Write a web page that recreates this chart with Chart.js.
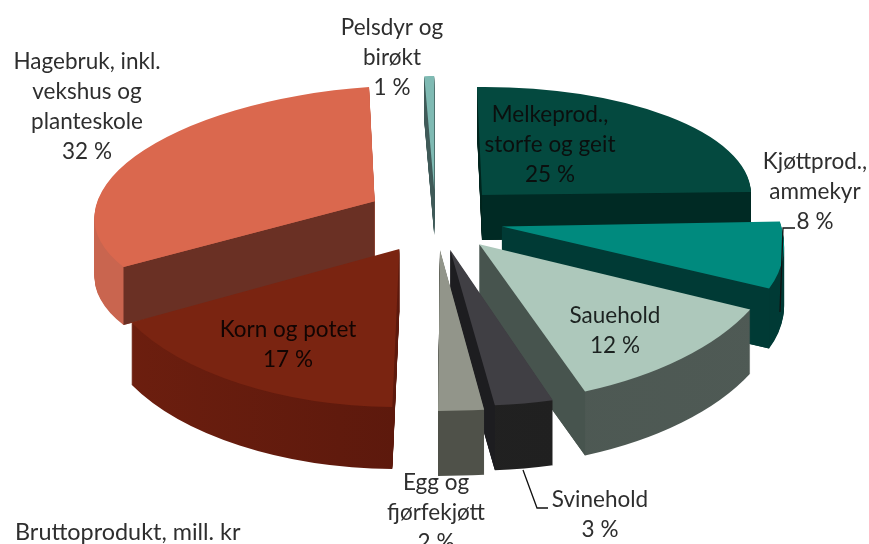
<!DOCTYPE html>
<html lang="no">
<head>
<meta charset="utf-8">
<title>Bruttoprodukt</title>
<script src="https://cdn.jsdelivr.net/npm/chart.js@4"></script>
<style>
    html, body { margin: 0; background: #fff; }
    canvas { display: block; filter: blur(0.5px); }
</style>
</head>
<body>
<canvas id="pie" width="869" height="544"></canvas>
<script>
(function () {
    'use strict';

    const categories = ['Melkeprod., storfe og geit', 'Kjøttprod., ammekyr', 'Sauehold', 'Svinehold', 'Egg og fjørfekjøtt', 'Korn og potet', 'Hagebruk, inkl. vekshus og planteskole', 'Pelsdyr og birøkt'];
    const shares = [25, 8, 12, 3, 2, 17, 32, 1];
    const chartNote = 'Bruttoprodukt, mill. kr';

    const topColors = ['#04493f', '#008a7e', '#adc8bb', '#403f44', '#92958a', '#7a2411', '#da684e', '#7fbab3'];
    const wallLeft = ['#00241d', '#003a35', '#4a5650', '#242424', '#4f5149', '#6e1f0f', '#c9654f', '#3f5a58'];
    const wallRight = ['#00241d', '#003a35', '#4f5a55', '#1e1e1e', '#4f5149', '#4c130a', '#c9654f', '#3f5a58'];
    const cutColors = ['#002a24', '#003a35', '#47544e', '#1d1d20', '#4f5149', '#5e1a0c', '#6a3024', '#3f5a58'];

    // view of the tilted pie: explode distance, where each slice's unit axes land, wall height
    const explode = [65, 68, 68, 65, 64, 72, 70, 56];
    const axisU = [[269, -3], [278, -5], [302, -13], [317, 7], [368, 0], [302, 3], [280, -12], [159, 0]];
    const axisV = [[5, 108], [49, 138], [13, 159], [5, 156], [-2, 161], [-7, 158], [-12, 115], [0, 114]];
    const wallHeight = [45, 60, 64, 65, 65, 62, 58, 45];
    const drawOrder = [7, 0, 6, 1, 5, 2, 3, 4];
    const TILT = 0.5;

    const labels = [
        { lines: ['Melkeprod.,', 'storfe og geit', '25 %'], x: 550, y: 115, color: '#0b0f0e' },
        { lines: ['Kjøttprod.,', 'ammekyr', '8 %'], x: 815, y: 162, color: '#2e2e2e' },
        { lines: ['Sauehold', '12 %'], x: 615, y: 316, color: '#1c2220' },
        { lines: ['Svinehold', '3 %'], x: 600, y: 500, color: '#2e2e2e' },
        { lines: ['Egg og', 'fjørfekjøtt', '2 %'], x: 436, y: 483, color: '#2e2e2e' },
        { lines: ['Korn og potet', '17 %'], x: 288, y: 330, color: '#120503' },
        { lines: ['Hagebruk, inkl.', 'vekshus og', 'planteskole', '32 %'], x: 87, y: 62, color: '#2e2e2e' },
        { lines: ['Pelsdyr og', 'birøkt', '1 %'], x: 392, y: 28, color: '#2e2e2e' }
    ];
    const leaders = [
        [[795, 228], [783, 228], [780, 312]],
        [[523, 470], [537, 508], [548, 508]]
    ];

    function drawSlice(ctx, el, i) {
        const mid = (el.startAngle + el.endAngle) / 2;
        const off = el.options.offset / 4;
        const r = el.outerRadius;
        const u = axisU[i];
        const v = axisV[i];
        // apex on screen; x stays, y follows the tilt
        const sx = el.x + Math.cos(mid) * off;
        const sy = el.y + Math.sin(mid) * off * TILT;
        const depth = wallHeight[i];

        function place(dy, paint) {
            ctx.save();
            ctx.transform(u[0] / r, u[1] / r, v[0] / r, v[1] / r, sx, sy + dy);
            ctx.translate(-el.x, -el.y);
            paint();
            ctx.restore();
        }

        // the explode shift is applied above, so the arc itself is painted without offset
        function sliceWith(color) {
            const copy = Object.create(el);
            copy.options = Object.assign({}, el.options, { backgroundColor: color, offset: 0 });
            return copy;
        }

        const grad = ctx.createLinearGradient(el.x - r, 0, el.x + r, 0);
        grad.addColorStop(0, wallLeft[i]);
        grad.addColorStop(1, wallRight[i]);
        const wall = sliceWith(grad);
        const top = sliceWith(el.options.backgroundColor);

        for (let dy = depth; dy > 0; dy--) {
            place(dy, function () { el.draw.call(wall, ctx); });
        }

        [[el.startAngle, -1], [el.endAngle, 1]].forEach(function (edge) {
            if (Math.cos(edge[0]) * edge[1] <= 0) {
                return;
            }
            const px = sx + Math.cos(edge[0]) * u[0] + Math.sin(edge[0]) * v[0];
            const py = sy + Math.cos(edge[0]) * u[1] + Math.sin(edge[0]) * v[1];
            ctx.fillStyle = cutColors[i];
            ctx.beginPath();
            ctx.moveTo(sx, sy);
            ctx.lineTo(px, py);
            ctx.lineTo(px, py + depth);
            ctx.lineTo(sx, sy + depth);
            ctx.closePath();
            ctx.fill();
        });

        place(0, function () { el.draw.call(top, ctx); });
    }

    const tiltedPie = {
        id: 'tiltedPie',
        beforeDatasetsDraw: function (chart) {
            const meta = chart.getDatasetMeta(0);
            drawOrder.forEach(function (i) {
                drawSlice(chart.ctx, meta.data[i], i);
            });
            return false;
        },
        afterDraw: function (chart) {
            const ctx = chart.ctx;
            ctx.save();
            ctx.strokeStyle = '#111';
            ctx.lineWidth = 1.3;
            leaders.forEach(function (pts) {
                ctx.beginPath();
                pts.forEach(function (p, k) {
                    if (k === 0) { ctx.moveTo(p[0], p[1]); } else { ctx.lineTo(p[0], p[1]); }
                });
                ctx.stroke();
            });

            ctx.font = '22.5px Lato';
            ctx.textAlign = 'center';
            ctx.textBaseline = 'middle';
            labels.forEach(function (label) {
                ctx.fillStyle = label.color;
                label.lines.forEach(function (line, k) {
                    ctx.fillText(line, label.x, label.y + k * 30);
                });
            });
            ctx.textAlign = 'left';
            ctx.font = '23.4px Lato';
            ctx.fillStyle = '#2e2e2e';
            ctx.fillText(chartNote, 15, 532);
            ctx.restore();
        }
    };

    new Chart(document.getElementById('pie'), {
        type: 'pie',
        data: {
            labels: categories,
            datasets: [{
                data: shares,
                backgroundColor: topColors,
                borderWidth: 0,
                offset: explode.map(function (v) { return v * 4; }),
                radius: 280
            }]
        },
        options: {
            responsive: false,
            animation: false,
            events: [],
            layout: { padding: { left: 3, bottom: 108 } },
            plugins: {
                legend: { display: false },
                tooltip: { enabled: false }
            }
        },
        plugins: [tiltedPie]
    });
})();
</script>
</body>
</html>
